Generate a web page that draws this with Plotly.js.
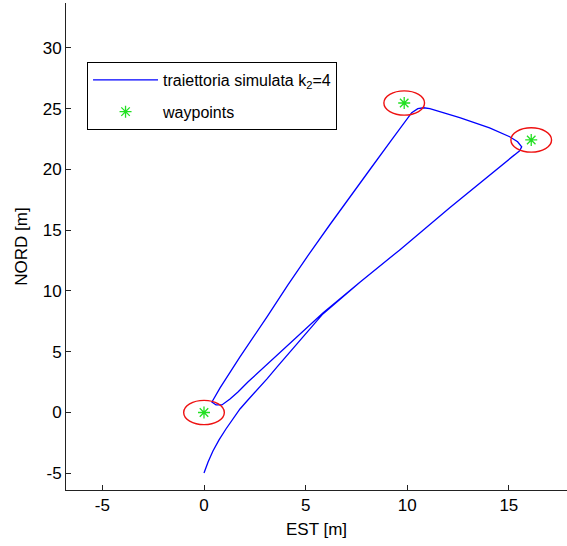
<!DOCTYPE html>
<html>
<head>
<meta charset="utf-8">
<script src="https://cdn.plot.ly/plotly-3.0.1.min.js"></script>
<style>html,body{margin:0;padding:0;background:#fff;}#chart{width:567px;height:546px;}</style>
</head>
<body>
<div id="chart"></div>
<script>
// Simulated trajectory (EST, NORD)
const trajEst = [0.00, 0.20, 0.44, 0.74, 1.08, 1.43, 1.77, 2.16, 2.61, 3.10, 3.64, 4.23, 4.82, 5.36, 5.85,
  7.67, 9.63, 12.09, 14.40, 15.28, 15.53, 15.63, 15.43, 15.04, 14.05, 12.58, 11.11,
  10.81, 10.52, 10.22, 9.88, 9.24, 8.21, 7.17, 6.19, 5.21, 4.13, 3.10, 1.77, 0.79, 0.44, 0.39, 0.59, 0.88,
  1.28, 1.67, 2.16, 2.85, 3.73, 4.72, 5.85, 7.67, 9.63, 12.09, 14.40, 15.28];
const trajNord = [-4.98, -4.07, -3.17, -2.26, -1.36, -0.54, 0.29, 1.03, 1.85, 2.76, 3.83, 4.98, 6.13, 7.20, 8.11,
  10.72, 13.38, 16.85, 19.98, 21.21, 21.54, 21.87, 22.28, 22.69, 23.43, 24.26, 25.00,
  25.08, 25.00, 24.67, 23.93, 22.45, 20.10, 17.75, 15.45, 13.14, 10.51, 7.87, 4.57, 2.02, 1.03, 0.86, 0.62, 0.62,
  1.11, 1.69, 2.51, 3.58, 4.98, 6.46, 8.19, 10.72, 13.38, 16.85, 19.98, 21.21];

// Waypoints
const wpEst = [0, 9.85, 16.1];
const wpNord = [0, 25.47, 22.43];
const wpRadius = 1;

const xTicks = [-5, 0, 5, 10, 15];
const yTicks = [-5, 0, 5, 10, 15, 20, 25, 30];

const tickFont = {family: 'Liberation Sans, Arial, sans-serif', size: 17, color: '#000'};
const legFont = {family: 'Liberation Sans, Arial, sans-serif', size: 16, color: '#000'};

const traces = [
  {x: trajEst, y: trajNord, type: 'scatter', mode: 'lines',
   name: 'traiettoria simulata k<sub>2</sub>=4', legendgroup: 'a',
   line: {color: '#0000ff', width: 1.3}},
  {x: wpEst, y: wpNord, type: 'scatter', mode: 'markers',
   name: 'waypoints', legendgroup: 'b',
   marker: {symbol: 'asterisk-open', size: 10, color: '#22e022', line: {color: '#22e022', width: 1.3}}}
];

const shapes = wpEst.map((x, i) => ({
  type: 'circle', xref: 'x', yref: 'y',
  x0: x - wpRadius, x1: x + wpRadius, y0: wpNord[i] - wpRadius, y1: wpNord[i] + wpRadius,
  line: {color: '#ee1111', width: 1.4}
}));

const layout = {
  width: 567, height: 546,
  margin: {l: 66, r: 0, t: 3, b: 56},
  paper_bgcolor: '#fff', plot_bgcolor: '#fff',
  font: tickFont,
  showlegend: true,
  legend: {x: 0.042, y: 0.879, xanchor: 'left', yanchor: 'top',
    bordercolor: '#000', borderwidth: 1, bgcolor: '#fff',
    font: legFont, tracegroupgap: 8, itemwidth: 65, traceorder: 'grouped'},
  xaxis: {range: [-6.79, 17.86], tickvals: xTicks, ticktext: xTicks.map(String),
    ticks: 'inside', ticklen: 5, tickcolor: '#222', showline: true, linecolor: '#222', linewidth: 1,
    mirror: false, showgrid: false, zeroline: false,
    title: {text: 'EST [m]', font: tickFont, standoff: 8}, tickfont: tickFont},
  yaxis: {range: [-6.38, 33.7], tickvals: yTicks, ticktext: yTicks.map(String),
    ticks: 'inside', ticklen: 5, tickcolor: '#222', showline: true, linecolor: '#222', linewidth: 1,
    mirror: false, showgrid: false, zeroline: false,
    title: {text: 'NORD [m]', font: tickFont, standoff: 10}, tickfont: tickFont},
  shapes: shapes
};

Plotly.newPlot('chart', traces, layout, {displayModeBar: false, staticPlot: true});
</script>
</body>
</html>
